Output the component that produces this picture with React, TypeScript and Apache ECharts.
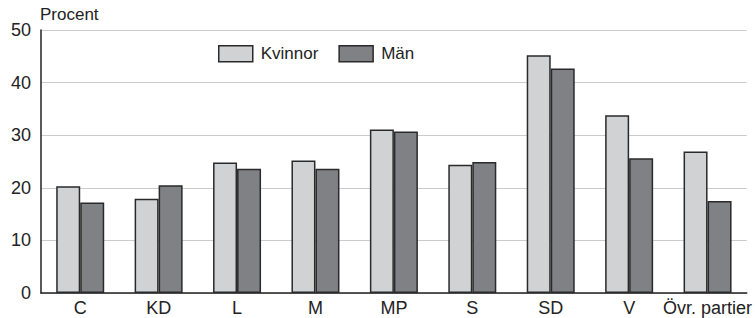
import React, { useEffect, useRef } from "react";
import * as echarts from "echarts";

const categories = ["C", "KD", "L", "M", "MP", "S", "SD", "V", "Övr. partier"];
const kvinnor = [20.3, 17.9, 24.8, 25.2, 31.1, 24.4, 45.2, 33.8, 26.9];
const man = [17.2, 20.5, 23.6, 23.6, 30.7, 24.9, 42.7, 25.6, 17.5];
const seriesNames = ["Kvinnor", "Män"];
const yTitle = "Procent";

export default function App() {
  const ref = useRef<HTMLDivElement>(null);
  useEffect(() => {
    document.body.style.margin = "0";
    const chart = echarts.init(ref.current!, null, { renderer: "svg" });
    const font = "Liberation Sans, Arial, Helvetica, sans-serif";
    chart.setOption({
      animation: false,
      textStyle: { fontFamily: font },
      grid: { left: 41, right: 7, top: 30, bottom: 25 },
      graphic: [
        {
          type: "text",
          left: 40,
          top: 6,
          style: { text: yTitle, fontSize: 17, fill: "#222", fontFamily: font },
        },
      ],
      legend: {
        left: 218,
        top: 45,
        padding: 0,
        icon: "rect",
        itemWidth: 34,
        itemHeight: 16,
        itemGap: 20,
        itemStyle: { borderColor: "#2a2a2a", borderWidth: 1.5 },
        textStyle: { fontSize: 17, color: "#222", fontFamily: font, padding: [0, 0, 0, 3] },
        data: seriesNames,
      },
      xAxis: {
        type: "category",
        data: categories,
        axisLine: { lineStyle: { color: "#222", width: 1.5 } },
        axisTick: { show: false },
        axisLabel: { fontSize: 18, color: "#222", margin: 6, fontFamily: font, interval: 0 },
      },
      yAxis: {
        type: "value",
        min: 0,
        max: 50,
        interval: 10,
        axisLine: { show: true, lineStyle: { color: "#222", width: 1.5 } },
        axisTick: { show: false },
        axisLabel: { fontSize: 18, color: "#222", margin: 10, fontFamily: font },
        splitLine: { lineStyle: { color: "#cbcbcb", width: 1 } },
      },
      series: [
        {
          name: seriesNames[0],
          type: "bar",
          data: kvinnor,
          barWidth: 24,
          barGap: "0%",
          itemStyle: { color: "#d1d2d4", borderColor: "#2a2a2a", borderWidth: 1.5 },
        },
        {
          name: seriesNames[1],
          type: "bar",
          data: man,
          barWidth: 24,
          barGap: "0%",
          itemStyle: { color: "#808185", borderColor: "#2a2a2a", borderWidth: 1.5 },
        },
      ],
    });
    return () => chart.dispose();
  }, []);
  return <div ref={ref} style={{ width: 755, height: 318 }} />;
}
